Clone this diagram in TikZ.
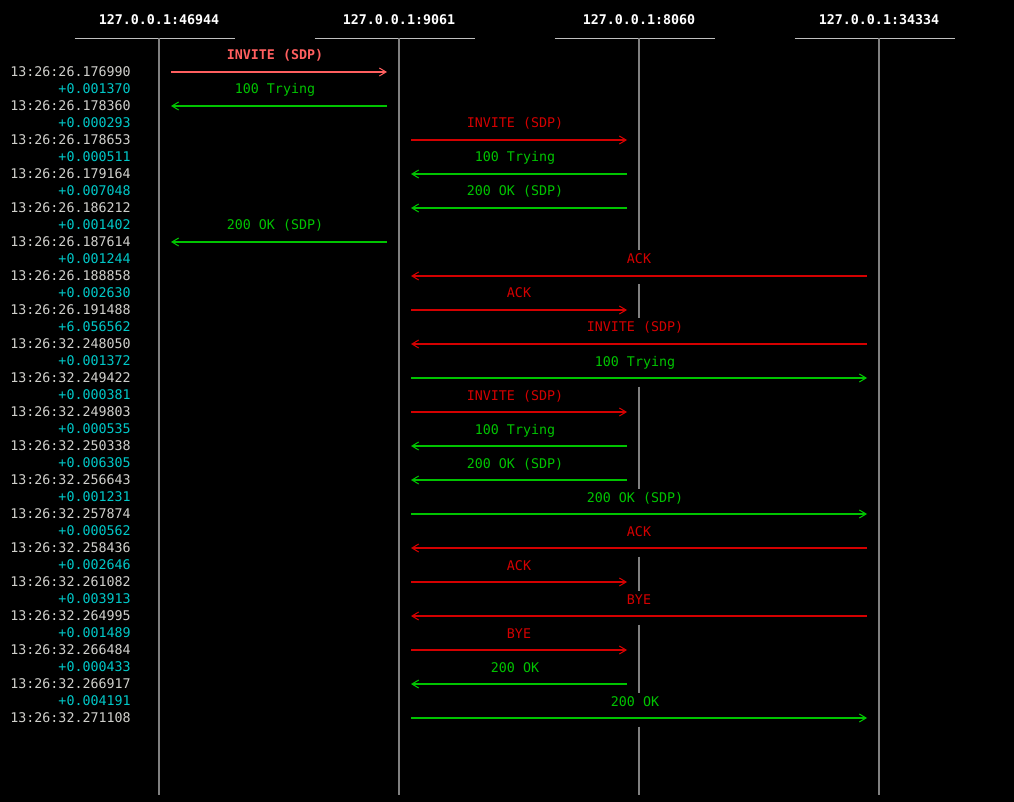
\documentclass[tikz,border=0pt]{standalone}
\usepackage{fontspec}
\setmainfont{DejaVu Sans Mono}
\usepackage{xcolor}
\usepackage{tikz}
\usetikzlibrary{arrows.meta, calc}

\definecolor{stampgrey}{RGB}{208,208,204}
\definecolor{deltacyan}{RGB}{0,200,200}
\definecolor{sipred}{RGB}{212,0,0}
\definecolor{siphot}{RGB}{255,95,95}
\definecolor{sipgreen}{RGB}{0,196,0}

\begin{document}
\begin{tikzpicture}[
    x=0.75pt, y=-0.75pt,
    font=\fontsize{10}{12}\selectfont,
    host/.style={font=\fontsize{10}{12}\selectfont\bfseries, text=white, minimum width=120pt, minimum height=27pt, inner sep=0pt},
    rule/.style={draw=black!25, line width=1pt},
    life/.style={draw=black!50, line width=1.5pt},
    stamp/.style={anchor=east, inner sep=0pt, text=stampgrey},
    delta/.style={anchor=east, inner sep=0pt, text=deltacyan},
    msg/.style={line width=0.8pt, -{Straight Barb[length=5pt, width=6pt]}},
    req/.style={msg, draw=sipred, text=sipred},
    hot/.style={msg, draw=siphot, text=siphot, font=\fontsize{10}{12}\selectfont\bfseries},
    resp/.style={msg, draw=sipgreen, text=sipgreen},
    lbl/.style={midway, anchor=base, yshift=9pt, xshift=#1, inner sep=0pt},
    lbl/.default=-3pt
]

\fill[black] (0,0) rectangle (1014,802);

% hosts
\node[host] (h1) at (159,20) {127.0.0.1:46944};
\node[host] (h2) at (399,20) {127.0.0.1:9061};
\node[host] (h3) at (639,20) {127.0.0.1:8060};
\node[host] (h4) at (879,20) {127.0.0.1:34334};

\foreach \h in {h1,h2,h3,h4}
    \draw[rule] ([xshift=-3pt]\h.south west) -- ([xshift=-3pt]\h.south east);

% lifelines
\draw[life] (h1.south) -- (h1.south |- 0,795);
\draw[life] (h2.south) -- (h2.south |- 0,795);
\draw[life] (h4.south) -- (h4.south |- 0,795);
\draw[life] (h3.south) -- (639,250.5) (639,284.5) -- (639,318.5)
    (639,386.5) -- (639,488.5) (639,556.5) -- (639,590.5)
    (639,624.5) -- (639,692.5) (639,726.5) -- (639,795);

% timestamps
\node[stamp] (t1) at (131,72) {13:26:26.176990};
\node[delta] (d1) at (131,89) {+0.001370};
\node[stamp] (t2) at (131,106) {13:26:26.178360};
\node[delta] (d2) at (131,123) {+0.000293};
\node[stamp] (t3) at (131,140) {13:26:26.178653};
\node[delta] (d3) at (131,157) {+0.000511};
\node[stamp] (t4) at (131,174) {13:26:26.179164};
\node[delta] (d4) at (131,191) {+0.007048};
\node[stamp] (t5) at (131,208) {13:26:26.186212};
\node[delta] (d5) at (131,225) {+0.001402};
\node[stamp] (t6) at (131,242) {13:26:26.187614};
\node[delta] (d6) at (131,259) {+0.001244};
\node[stamp] (t7) at (131,276) {13:26:26.188858};
\node[delta] (d7) at (131,293) {+0.002630};
\node[stamp] (t8) at (131,310) {13:26:26.191488};
\node[delta] (d8) at (131,327) {+6.056562};
\node[stamp] (t9) at (131,344) {13:26:32.248050};
\node[delta] (d9) at (131,361) {+0.001372};
\node[stamp] (t10) at (131,378) {13:26:32.249422};
\node[delta] (d10) at (131,395) {+0.000381};
\node[stamp] (t11) at (131,412) {13:26:32.249803};
\node[delta] (d11) at (131,429) {+0.000535};
\node[stamp] (t12) at (131,446) {13:26:32.250338};
\node[delta] (d12) at (131,463) {+0.006305};
\node[stamp] (t13) at (131,480) {13:26:32.256643};
\node[delta] (d13) at (131,497) {+0.001231};
\node[stamp] (t14) at (131,514) {13:26:32.257874};
\node[delta] (d14) at (131,531) {+0.000562};
\node[stamp] (t15) at (131,548) {13:26:32.258436};
\node[delta] (d15) at (131,565) {+0.002646};
\node[stamp] (t16) at (131,582) {13:26:32.261082};
\node[delta] (d16) at (131,599) {+0.003913};
\node[stamp] (t17) at (131,616) {13:26:32.264995};
\node[delta] (d17) at (131,633) {+0.001489};
\node[stamp] (t18) at (131,650) {13:26:32.266484};
\node[delta] (d18) at (131,667) {+0.000433};
\node[stamp] (t19) at (131,684) {13:26:32.266917};
\node[delta] (d19) at (131,701) {+0.004191};
\node[stamp] (t20) at (131,718) {13:26:32.271108};

% messages
\draw[hot] ([xshift=9pt]h1 |- t1) -- node[lbl] {INVITE (SDP)} ([xshift=-9pt]h2 |- t1);
\draw[resp] ([xshift=-9pt]h2 |- t2) -- node[lbl] {100 Trying} ([xshift=9pt]h1 |- t2);
\draw[req] ([xshift=9pt]h2 |- t3) -- node[lbl] {INVITE (SDP)} ([xshift=-9pt]h3 |- t3);
\draw[resp] ([xshift=-9pt]h3 |- t4) -- node[lbl] {100 Trying} ([xshift=9pt]h2 |- t4);
\draw[resp] ([xshift=-9pt]h3 |- t5) -- node[lbl] {200 OK (SDP)} ([xshift=9pt]h2 |- t5);
\draw[resp] ([xshift=-9pt]h2 |- t6) -- node[lbl] {200 OK (SDP)} ([xshift=9pt]h1 |- t6);
\draw[req] ([xshift=-9pt]h4 |- t7) -- node[lbl=0pt] {ACK} ([xshift=9pt]h2 |- t7);
\draw[req] ([xshift=9pt]h2 |- t8) -- node[lbl=0pt] {ACK} ([xshift=-9pt]h3 |- t8);
\draw[req] ([xshift=-9pt]h4 |- t9) -- node[lbl] {INVITE (SDP)} ([xshift=9pt]h2 |- t9);
\draw[resp] ([xshift=9pt]h2 |- t10) -- node[lbl] {100 Trying} ([xshift=-9pt]h4 |- t10);
\draw[req] ([xshift=9pt]h2 |- t11) -- node[lbl] {INVITE (SDP)} ([xshift=-9pt]h3 |- t11);
\draw[resp] ([xshift=-9pt]h3 |- t12) -- node[lbl] {100 Trying} ([xshift=9pt]h2 |- t12);
\draw[resp] ([xshift=-9pt]h3 |- t13) -- node[lbl] {200 OK (SDP)} ([xshift=9pt]h2 |- t13);
\draw[resp] ([xshift=9pt]h2 |- t14) -- node[lbl] {200 OK (SDP)} ([xshift=-9pt]h4 |- t14);
\draw[req] ([xshift=-9pt]h4 |- t15) -- node[lbl=0pt] {ACK} ([xshift=9pt]h2 |- t15);
\draw[req] ([xshift=9pt]h2 |- t16) -- node[lbl=0pt] {ACK} ([xshift=-9pt]h3 |- t16);
\draw[req] ([xshift=-9pt]h4 |- t17) -- node[lbl=0pt] {BYE} ([xshift=9pt]h2 |- t17);
\draw[req] ([xshift=9pt]h2 |- t18) -- node[lbl=0pt] {BYE} ([xshift=-9pt]h3 |- t18);
\draw[resp] ([xshift=-9pt]h3 |- t19) -- node[lbl] {200 OK} ([xshift=9pt]h2 |- t19);
\draw[resp] ([xshift=9pt]h2 |- t20) -- node[lbl] {200 OK} ([xshift=-9pt]h4 |- t20);

\end{tikzpicture}
\end{document}
